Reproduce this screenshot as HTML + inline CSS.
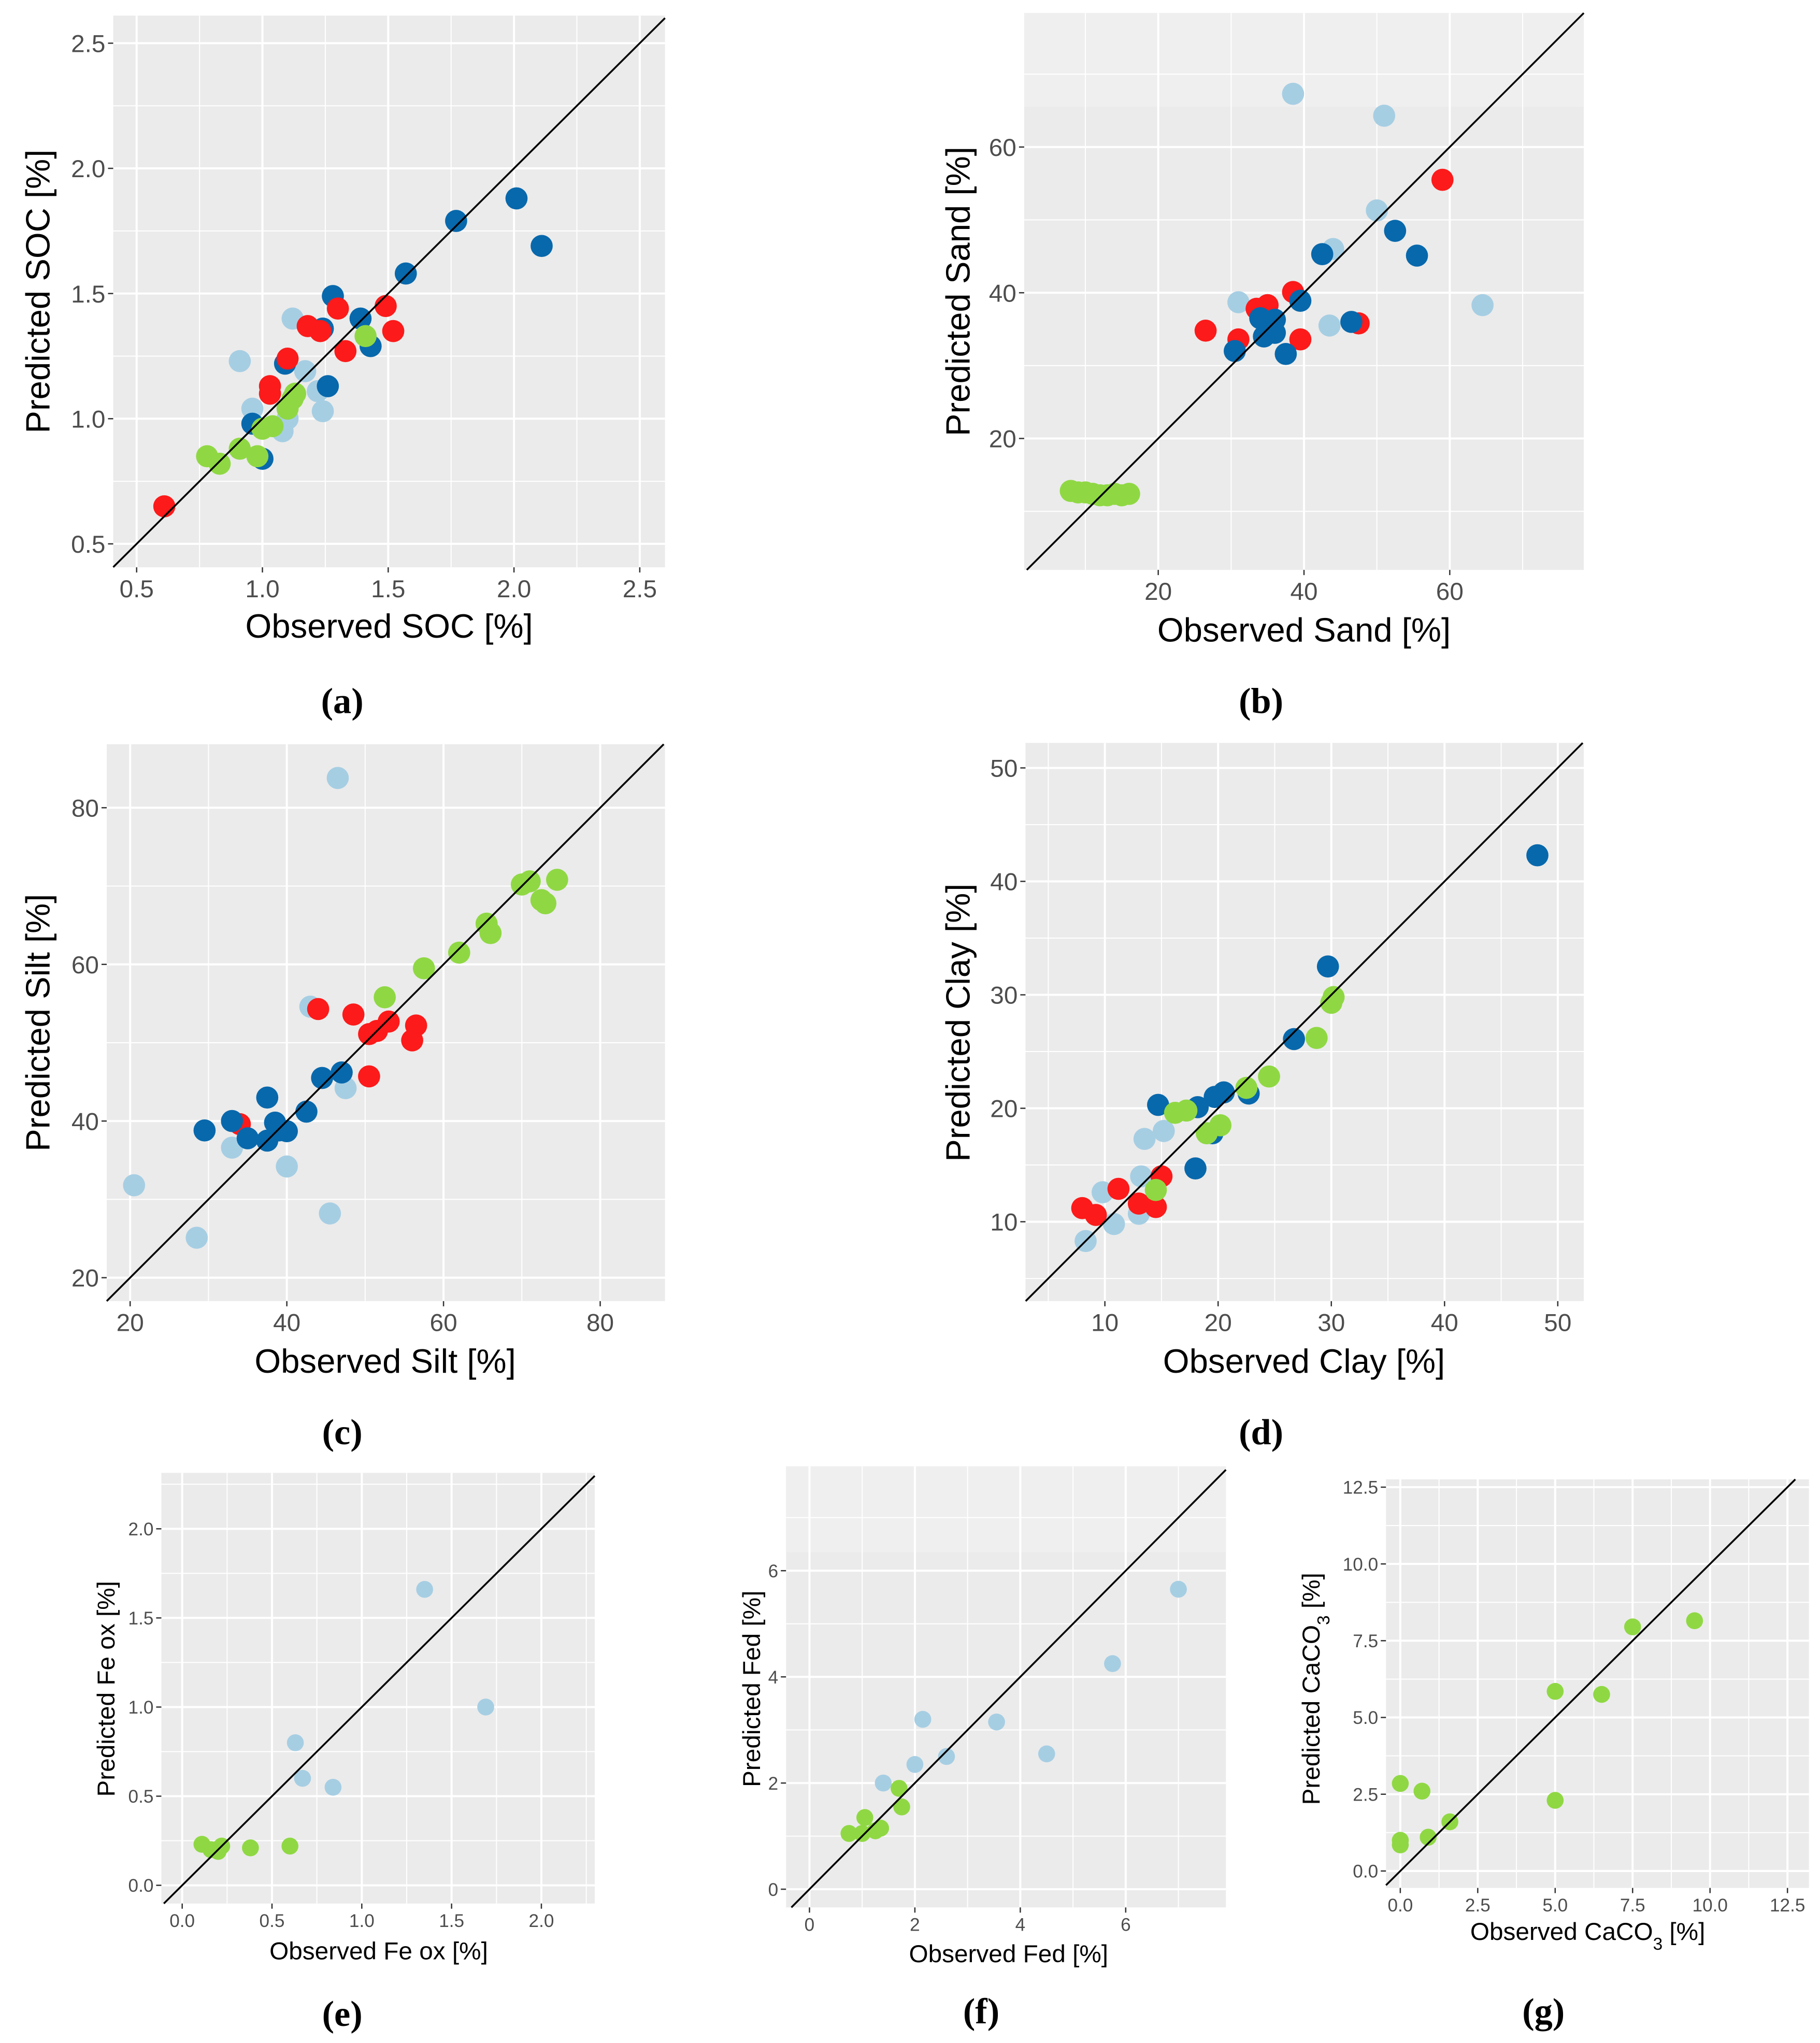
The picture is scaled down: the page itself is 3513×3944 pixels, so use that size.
<!DOCTYPE html>
<html><head><meta charset="utf-8"><style>
html,body{margin:0;padding:0;background:#fff}
svg{display:block}
text{font-family:"Liberation Sans",sans-serif}
.lab{font-family:"Liberation Serif",serif;font-weight:bold;font-size:28px}
</style></head><body>
<svg id="fig" width="3513" height="3944" viewBox="0 0 1398.5 1570.2" preserveAspectRatio="none" xmlns="http://www.w3.org/2000/svg"></svg>
<script>
// ---- data ----
const aDark=[[2.01,1.88],[2.11,1.69],[1.77,1.79],[1.57,1.58],[1.28,1.49],[1.39,1.40],[1.24,1.36],[1.43,1.29],[1.26,1.13],[1.09,1.22],[0.96,0.98],[1.00,0.84]];
const aRed=[[0.61,0.65],[1.03,1.13],[1.03,1.10],[1.10,1.24],[1.18,1.37],[1.23,1.35],[1.30,1.44],[1.33,1.27],[1.49,1.45],[1.52,1.35]];
const aLight=[[0.91,1.23],[1.12,1.40],[1.17,1.19],[0.96,1.04],[1.22,1.11],[1.24,1.03],[1.08,0.95],[1.10,1.00]];
const aGreen=[[0.78,0.85],[0.83,0.82],[0.91,0.88],[0.98,0.85],[1.00,0.96],[1.04,0.97],[1.10,1.04],[1.13,1.10],[1.12,1.08],[1.41,1.33]];
const bLight=[[38.5,67.3],[51,64.3],[50,51.3],[44,46],[43.5,35.5],[31,38.7],[64.5,38.3]];
const bRed=[[59,55.5],[26.5,34.8],[31,33.6],[33.5,37.8],[35,38.3],[38.5,40.1],[39.5,33.6],[47.5,35.8]];
const bDark=[[30.5,32],[34,36.5],[35,36],[34.5,34],[36,34.5],[37.5,31.6],[39.5,38.9],[42.5,45.3],[46.5,36],[52.5,48.5],[55.5,45.1],[36,36.3]];
const bGreen=[[8,12.8],[9,12.6],[10,12.6],[11,12.4],[12,12.2],[13,12.2],[14,12.4],[15,12.2],[16,12.4]];
const cLight=[[46.5,83.8],[20.5,31.8],[28.5,25.1],[45.5,28.2],[40,34.2],[33,36.6],[43,54.6],[47.5,44.2]];
const cRed=[[44,54.3],[48.5,53.6],[50.5,51.1],[51.5,51.5],[53,52.7],[56.5,52.2],[56,50.3],[50.5,45.7],[34,39.6]];
const cDark=[[29.5,38.8],[33,40],[35,37.8],[37.5,43],[37.5,37.5],[38.5,39.8],[39,38.8],[40,38.7],[42.5,41.2],[44.5,45.5],[47,46.2]];
const cGreen=[[52.5,55.8],[57.5,59.5],[62,61.5],[65.5,65.2],[66,64],[70,70.2],[71,70.6],[72.5,68.2],[73,67.8],[74.5,70.8]];
const dDark=[[48.2,42.3],[29.7,32.5],[26.7,26.1],[14.7,20.3],[18.2,20.1],[19.7,21],[20.5,21.4],[22.7,21.3],[18,14.7],[19.5,17.8]];
const dLight=[[8.3,8.3],[9.8,12.6],[10.8,9.8],[13,10.7],[13.2,14],[13.5,17.3],[15.2,18]];
const dRed=[[8,11.2],[9.2,10.6],[11.2,12.9],[13,11.6],[14.5,11.3],[15,14]];
const dGreen=[[14.5,12.8],[16.2,19.6],[17.2,19.8],[19,17.8],[20.2,18.5],[22.5,21.8],[24.5,22.8],[28.7,26.2],[30,29.3],[30.2,29.8]];
const eLight=[[1.35,1.66],[1.69,1.0],[0.63,0.80],[0.67,0.60],[0.84,0.55]];
const eGreen=[[0.11,0.23],[0.16,0.20],[0.21,0.21],[0.20,0.19],[0.22,0.22],[0.38,0.21],[0.60,0.22]];
const fLight=[[7.0,5.65],[5.75,4.25],[2.15,3.2],[3.55,3.15],[4.5,2.55],[2.6,2.5],[2.0,2.35],[1.4,2.0]];
const fGreen=[[1.7,1.9],[1.75,1.55],[1.05,1.35],[1.0,1.05],[0.75,1.05],[1.35,1.15],[1.25,1.1]];
const gGreen=[[7.5,7.95],[9.5,8.15],[5.0,5.85],[6.5,5.75],[0,2.85],[0.7,2.6],[5,2.3],[1.6,1.6],[0.9,1.1],[0,1.0],[0,0.85]];
const aTicks=[0.5,1.0,1.5,2.0,2.5], bTicks=[20,40,60], cTicks=[20,40,60,80], dTicks=[10,20,30,40,50];
const eTicks=[0.0,0.5,1.0,1.5,2.0], fTicks=[0,2,4,6], gTicks=[0.0,2.5,5.0,7.5,10.0,12.5];

const C={dark:'#0868ac',light:'#a6cee3',red:'#fc1a1a',green:'#8fd843'};
const NS='http://www.w3.org/2000/svg', svg=document.getElementById('fig');
function mk(tag,at,parent){const e=document.createElementNS(NS,tag);for(const k in at)e.setAttribute(k,at[k]);(parent||svg).appendChild(e);return e;}

function panel(p){
  const g=mk('g',{});
  
  
  const X=v=>p.x0+(v-p.xv0)*p.sx, Y=v=>p.y0-(v-p.yv0)*p.sy;
  const bg=mk('rect',{x:p.L,y:p.T,width:p.R-p.L,height:p.B-p.T,fill:'#ebebeb'},g);
  
  
  if(p.band){mk('rect',{x:p.L,y:p.T,width:p.R-p.L,height:p.band-p.T,fill:'#efefef'},g);}
  const fmt=v=>p.dec?v.toFixed(p.dec):String(v);
  const step=p.xt[1]-p.xt[0], ystep=p.yt[1]-p.yt[0];
  for(let v=p.xt[0]-step/2;X(v)<p.R;v+=step/2){const xx=X(v);if(xx>p.L)mk('line',{x1:xx,x2:xx,y1:p.T,y2:p.B,stroke:'#fff','stroke-width':(Math.abs((v-p.xt[0])/step%1)<1e-6)?1.6:0.8},g);}
  for(let v=p.yt[0]-ystep/2;Y(v)>p.T;v+=ystep/2){const yy=Y(v);if(yy<p.B)mk('line',{x1:p.L,x2:p.R,y1:yy,y2:yy,stroke:'#fff','stroke-width':(Math.abs((v-p.yt[0])/ystep%1)<1e-6)?1.6:0.8},g);}
  p.xt.forEach(v=>{const xx=X(v);
    mk('line',{x1:xx,x2:xx,y1:p.B,y2:p.B+4,stroke:'#333','stroke-width':1},g);
    const t=mk('text',{x:xx,y:p.B+4+p.tf,'text-anchor':'middle','font-size':p.tf,fill:'#4d4d4d'},g);t.textContent=fmt(v);
    
    });
  p.yt.forEach(v=>{const yy=Y(v);
    mk('line',{x1:p.L-4,x2:p.L,y1:yy,y2:yy,stroke:'#333','stroke-width':1},g);
    const t=mk('text',{x:p.L-6,y:yy+p.tf*0.36,'text-anchor':'end','font-size':p.tf,fill:'#4d4d4d'},g);t.textContent=fmt(v);
    
    });
  p.series.forEach(s=>{s.d.forEach(pt=>{
    const c=mk('circle',{cx:X(pt[0]),cy:Y(pt[1]),r:p.r,fill:C[s.c]},g);
    
    });});
  const lo=Math.max((p.L-p.x0)/p.sx+p.xv0,(p.y0-p.B)/p.sy+p.yv0), hi=Math.min((p.R-p.x0)/p.sx+p.xv0,(p.y0-p.T)/p.sy+p.yv0);
  const ln=mk('line',{x1:X(lo),y1:Y(lo),x2:X(hi),y2:Y(hi),stroke:'#000','stroke-width':1.4},g);
  
  
  const xt=mk('text',{x:p.xtx,y:p.xty,'text-anchor':'middle','font-size':p.af,fill:'#000'},g);xt.innerHTML=p.xl;
  
  
  const yt=mk('text',{x:0,y:0,'text-anchor':'middle','font-size':p.af,fill:'#000',transform:`translate(${p.ytx},${p.yty}) rotate(-90)`},g);yt.innerHTML=p.yl;
  
  
  const lb=mk('text',{x:p.lx,y:p.ly,'text-anchor':'middle','class':'lab'},g);lb.textContent=p.lab;
  
  
}
const sub='<tspan baseline-shift="sub" font-size="70%">3</tspan>';
panel({name:'panel-a-soc',L:87,R:511,T:12,B:436,x0:105,xv0:0.5,sx:193.3,y0:418,yv0:0.5,sy:192.4,xt:aTicks,yt:aTicks,dec:1,tf:19,af:26,r:8.5,
 series:[{c:'light',d:aLight},{c:'dark',d:aDark},{c:'red',d:aRed},{c:'green',d:aGreen}],
 xl:'Observed SOC [%]',xtx:299,xty:490,yl:'Predicted SOC [%]',ytx:38,yty:224,lab:'(a)',lx:263,ly:548});
panel({name:'panel-b-sand',L:787,R:1217,T:10,B:438,band:82,x0:778,xv0:0,sx:5.6,y0:449,yv0:0,sy:5.6,xt:bTicks,yt:bTicks,tf:19,af:26,r:8.5,
 series:[{c:'light',d:bLight},{c:'red',d:bRed},{c:'dark',d:bDark},{c:'green',d:bGreen}],
 xl:'Observed Sand [%]',xtx:1002,xty:493,yl:'Predicted Sand [%]',ytx:745,yty:224,lab:'(b)',lx:969,ly:548});
panel({name:'panel-c-silt',L:82,R:511,T:572,B:1000,x0:100,xv0:20,sx:6.02,y0:982,yv0:20,sy:6.02,xt:cTicks,yt:cTicks,tf:19,af:26,r:8.5,
 series:[{c:'light',d:cLight},{c:'red',d:cRed},{c:'dark',d:cDark},{c:'green',d:cGreen}],
 xl:'Observed Silt [%]',xtx:296,xty:1055,yl:'Predicted Silt [%]',ytx:38,yty:786,lab:'(c)',lx:263,ly:1110});
panel({name:'panel-d-clay',L:788,R:1217,T:571,B:1000,x0:849,xv0:10,sx:8.7,y0:939,yv0:10,sy:8.72,xt:dTicks,yt:dTicks,tf:19,af:26,r:8.5,
 series:[{c:'dark',d:dDark},{c:'light',d:dLight},{c:'red',d:dRed},{c:'green',d:dGreen}],
 xl:'Observed Clay [%]',xtx:1002,xty:1055,yl:'Predicted Clay [%]',ytx:745,yty:786,lab:'(d)',lx:969,ly:1110});
panel({name:'panel-e-feox',L:124,R:457,T:1132,B:1463,x0:140,xv0:0,sx:138,y0:1449,yv0:0,sy:137,xt:eTicks,yt:eTicks,dec:1,tf:14,af:19,r:6.5,
 series:[{c:'light',d:eLight},{c:'green',d:eGreen}],
 xl:'Observed Fe ox [%]',xtx:291,xty:1506,yl:'Predicted Fe ox [%]',ytx:88,yty:1298,lab:'(e)',lx:263,ly:1557});
panel({name:'panel-f-fed',L:604,R:942,T:1127,B:1466,band:1193,x0:622,xv0:0,sx:40.5,y0:1452,yv0:0,sy:40.8,xt:fTicks,yt:fTicks,tf:14,af:19,r:6.5,
 series:[{c:'light',d:fLight},{c:'green',d:fGreen}],
 xl:'Observed Fed [%]',xtx:775,xty:1508,yl:'Predicted Fed [%]',ytx:584,yty:1298,lab:'(f)',lx:754,ly:1555});
panel({name:'panel-g-caco3',L:1065,R:1390,T:1137,B:1451,x0:1076,xv0:0,sx:23.8,y0:1438,yv0:0,sy:23.6,xt:gTicks,yt:gTicks,dec:1,tf:14,af:19,r:6.5,
 series:[{c:'green',d:gGreen}],
 xl:'Observed CaCO'+sub+' [%]',xtx:1220,xty:1491,yl:'Predicted CaCO'+sub+' [%]',ytx:1014,yty:1298,lab:'(g)',lx:1186,ly:1555});
</script>
</body></html>
